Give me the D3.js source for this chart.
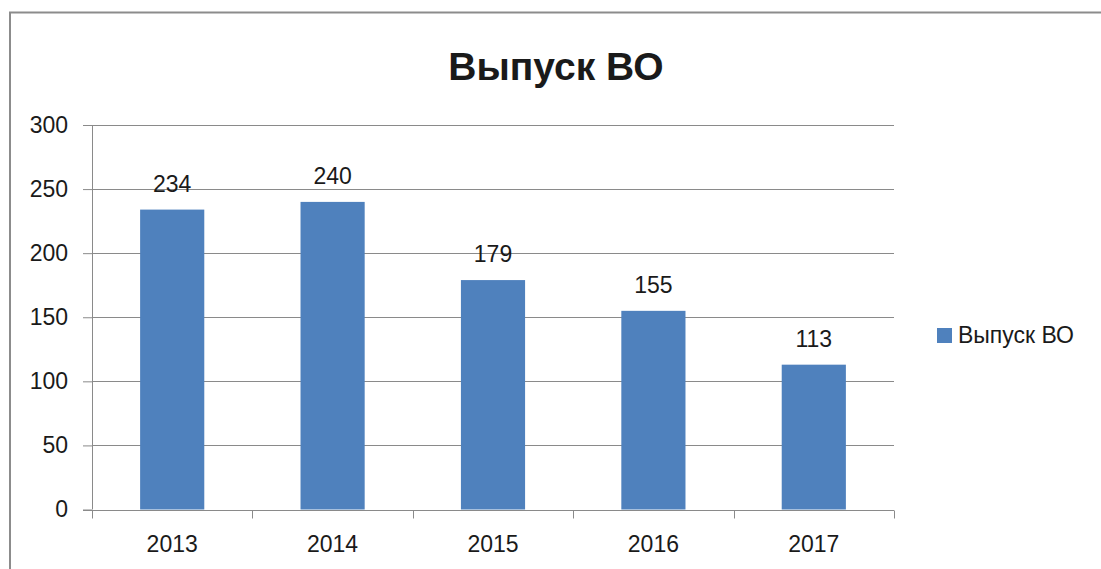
<!DOCTYPE html>
<html lang="ru">
<head>
<meta charset="UTF-8">
<title>Выпуск ВО</title>
<script src="https://d3js.org/d3.v7.min.js"></script>
<style>
  body { margin: 0; background: #fff; }
  svg text { font-family: "Liberation Sans", Arial, sans-serif; fill: #1a1a1a; }
</style>
</head>
<body>
<svg id="chart" width="1101" height="569"></svg>
<script>
const years = ["2013", "2014", "2015", "2016", "2017"];
const values = [234, 240, 179, 155, 113];
const yTicks = [0, 50, 100, 150, 200, 250, 300];
const seriesName = "Выпуск ВО";
const title = "Выпуск ВО";

const svg = d3.select("#chart");
const margin = {top: 125, left: 92, right: 207, bottom: 59};

// frame (only top and left edges visible)
svg.append("path")
   .attr("d", "M10,569 V12.5 H1101")
   .attr("fill", "none")
   .attr("stroke", "#8c8c8c")
   .attr("stroke-width", 2);

svg.append("text")
   .attr("x", 556).attr("y", 80)
   .attr("text-anchor", "middle")
   .attr("font-size", 39).attr("font-weight", "bold")
   .text(title);

const g = svg.append("g").attr("transform", `translate(${margin.left},${margin.top})`);

const x = d3.scaleBand().domain(years).range([0, 802]).paddingInner(0.6).paddingOuter(0.3);
const y = d3.scaleLinear().domain([0, 300]).range([384.5, 0]);

// gridlines
g.append("g")
 .selectAll("line")
 .data(yTicks.filter(t => t > 0))
 .join("line")
 .attr("x1", 0).attr("x2", 802)
 .attr("y1", d => Math.round(y(d)) + 0.5).attr("y2", d => Math.round(y(d)) + 0.5)
 .attr("stroke", "#8a8a8a");

// y axis
const yAxis = g.append("g")
  .call(d3.axisLeft(y).tickValues(yTicks).tickSize(9).tickPadding(15));
yAxis.select(".domain").attr("stroke", "#8a8a8a").attr("d", "M0.5,0V384.5");
yAxis.selectAll(".tick line").attr("stroke", "#8a8a8a");
yAxis.selectAll(".tick text").attr("font-size", 23).attr("fill", "#1a1a1a")
     .attr("font-family", "Liberation Sans, Arial, sans-serif");

// x axis
const step = 802 / years.length;
const xAxis = g.append("g").attr("transform", `translate(0,${Math.round(y(0)) + 0.5})`);
xAxis.append("line").attr("x1", -9).attr("x2", 802).attr("stroke", "#8a8a8a");
xAxis.selectAll(".xt")
     .data(d3.range(years.length + 1))
     .join("line")
     .attr("x1", i => Math.round(i * step) + 0.5).attr("x2", i => Math.round(i * step) + 0.5)
     .attr("y1", 0).attr("y2", 8)
     .attr("stroke", "#8a8a8a");
xAxis.selectAll("text")
     .data(years)
     .join("text")
     .attr("x", d => x(d) + x.bandwidth() / 2)
     .attr("y", 41)
     .attr("text-anchor", "middle")
     .attr("font-size", 23)
     .text(d => d);

// bars
g.selectAll(".bar")
 .data(values)
 .join("rect")
 .attr("x", (d, i) => x(years[i]))
 .attr("y", d => y(d))
 .attr("width", x.bandwidth())
 .attr("height", d => y(0) - y(d))
 .attr("fill", "#4f81bd");

// value labels
g.selectAll(".label")
 .data(values)
 .join("text")
 .attr("x", (d, i) => x(years[i]) + x.bandwidth() / 2)
 .attr("y", d => y(d) - 18)
 .attr("text-anchor", "middle")
 .attr("font-size", 23)
 .text(d => d);

// legend
const lg = svg.append("g").attr("transform", "translate(937,328)");
lg.append("rect").attr("width", 15).attr("height", 15).attr("fill", "#4f81bd");
lg.append("text").attr("x", 21).attr("y", 15).attr("font-size", 23).text(seriesName);
</script>
</body>
</html>
